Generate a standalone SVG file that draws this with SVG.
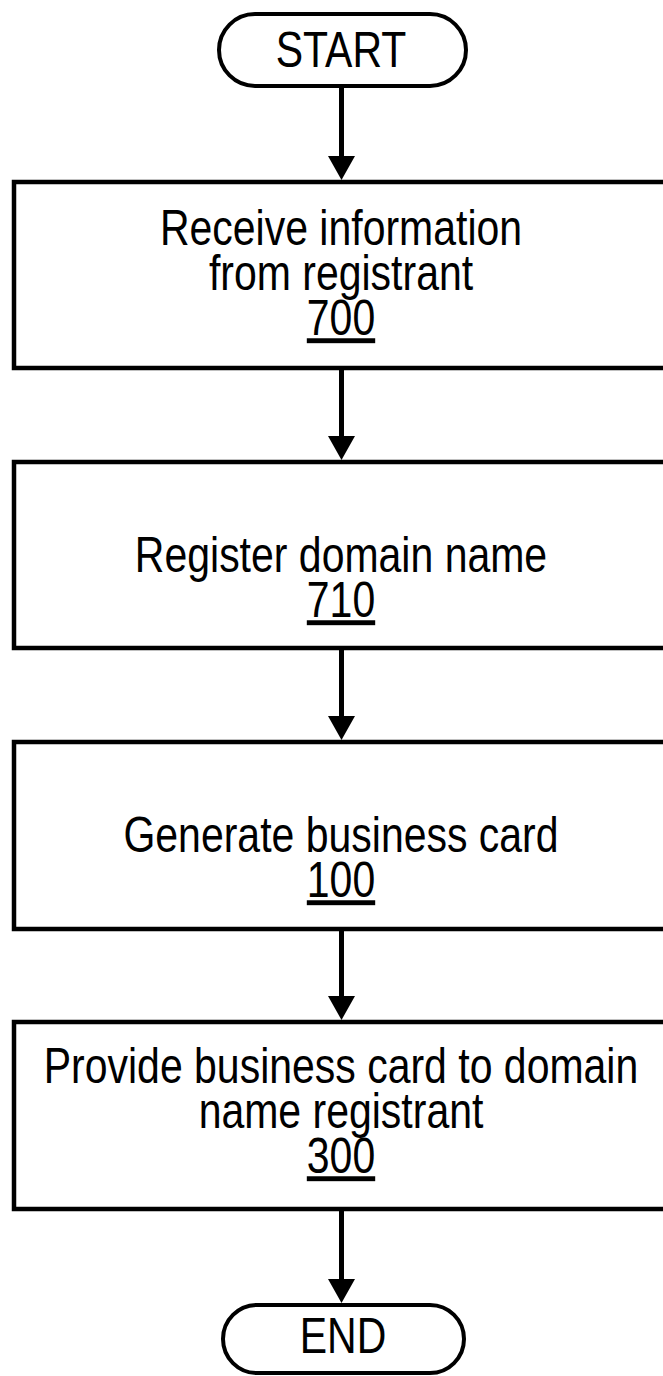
<svg xmlns="http://www.w3.org/2000/svg" width="663" height="1376" viewBox="0 0 663 1376">
<style>
.box{fill:#fff;stroke:#000;stroke-width:4.5}
.term{fill:#fff;stroke:#000;stroke-width:4}
.lbl{font-family:"Liberation Sans",Arial,sans-serif;font-size:41px;fill:#000;text-anchor:middle}
.num{text-decoration:underline}
.conn{stroke:#000;stroke-width:5;fill:none}
</style>
<defs>
<marker id="arr" viewBox="0 0 24 27" refX="2" refY="13.5" markerWidth="24" markerHeight="27" markerUnits="userSpaceOnUse" orient="auto">
<path d="M0,0 L24,13.5 L0,27 z" fill="#000"/>
</marker>
</defs>
<rect width="663" height="1376" fill="#fff"/>
<g id="connectors">
<line class="conn" x1="341.5" y1="88" x2="341.5" y2="158" marker-end="url(#arr)"/>
<line class="conn" x1="341.5" y1="370" x2="341.5" y2="438" marker-end="url(#arr)"/>
<line class="conn" x1="341.5" y1="650" x2="341.5" y2="718" marker-end="url(#arr)"/>
<line class="conn" x1="341.5" y1="931" x2="341.5" y2="998" marker-end="url(#arr)"/>
<line class="conn" x1="341.5" y1="1211" x2="341.5" y2="1281" marker-end="url(#arr)"/>
</g>
<g id="start">
<rect class="term" x="219" y="14" width="247" height="72" rx="36"/>
<text class="lbl" transform="translate(341,67) scale(1,1.2)">START</text>
</g>
<g id="n700">
<rect class="box" x="14" y="182" width="680" height="186"/>
<text class="lbl" transform="translate(341,245) scale(1,1.2)">Receive information</text>
<text class="lbl" transform="translate(341,290) scale(1,1.2)">from registrant</text>
<text class="lbl num" transform="translate(341,335) scale(1,1.2)">700</text>
</g>
<g id="n710">
<rect class="box" x="14" y="462" width="680" height="186"/>
<text class="lbl" transform="translate(341,572) scale(1,1.2)">Register domain name</text>
<text class="lbl num" transform="translate(341,617) scale(1,1.2)">710</text>
</g>
<g id="n100">
<rect class="box" x="14" y="742" width="680" height="187"/>
<text class="lbl" transform="translate(341,852) scale(1,1.2)">Generate business card</text>
<text class="lbl num" transform="translate(341,897) scale(1,1.2)">100</text>
</g>
<g id="n300">
<rect class="box" x="14" y="1022" width="680" height="187"/>
<text class="lbl" transform="translate(341,1083) scale(1,1.2)">Provide business card to domain</text>
<text class="lbl" transform="translate(341,1128) scale(1,1.2)">name registrant</text>
<text class="lbl num" transform="translate(341,1173) scale(1,1.2)">300</text>
</g>
<g id="end">
<rect class="term" x="223" y="1305" width="241" height="68" rx="34"/>
<text class="lbl" transform="translate(343,1353) scale(1,1.2)">END</text>
</g>
</svg>
